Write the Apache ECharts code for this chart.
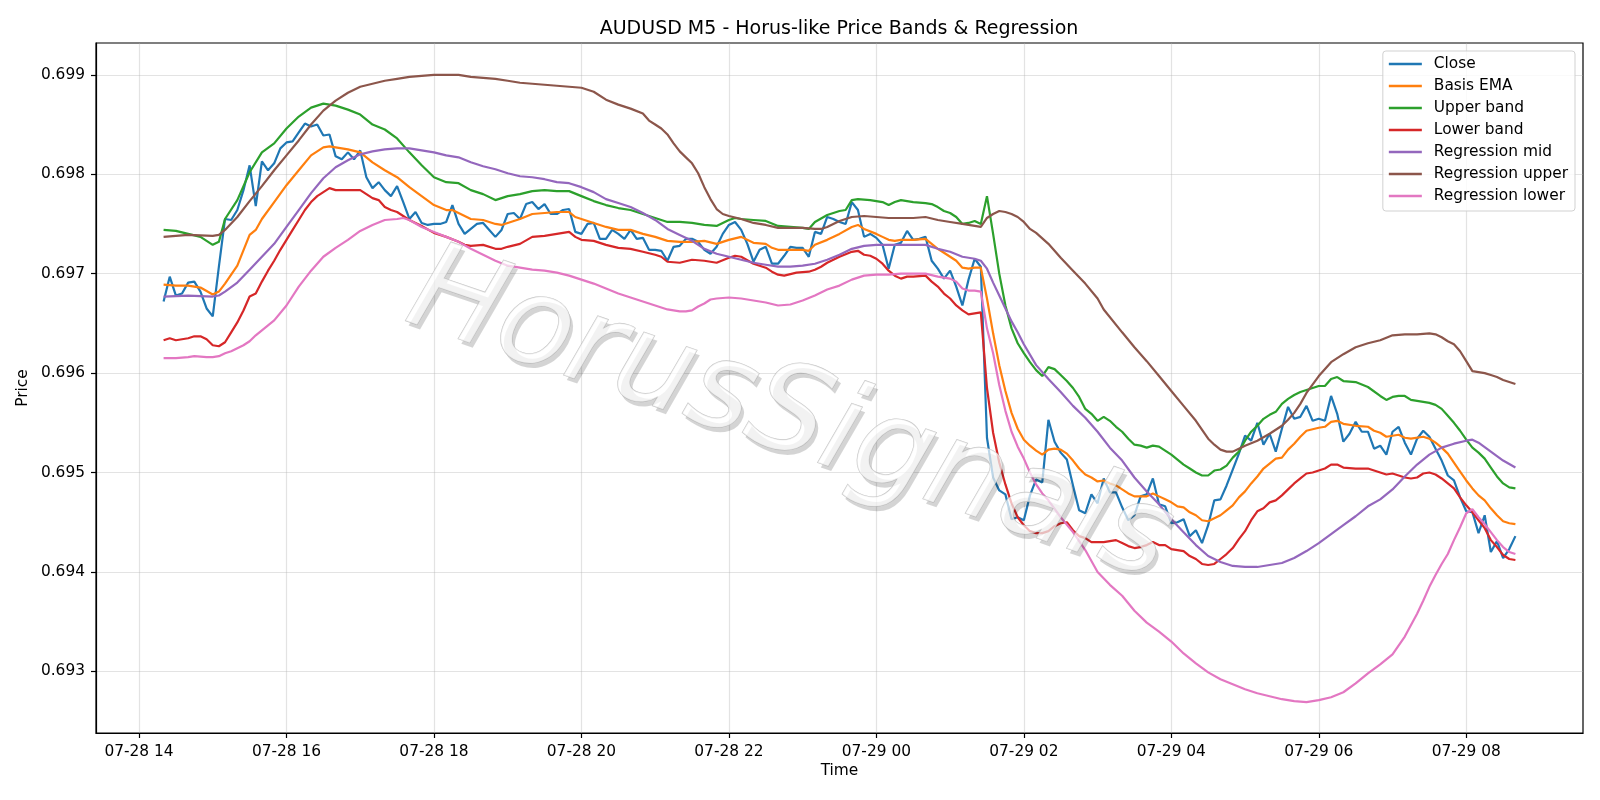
<!DOCTYPE html>
<html>
<head>
<meta charset="utf-8">
<title>AUDUSD M5 - Horus-like Price Bands & Regression</title>
<script src="https://cdn.jsdelivr.net/npm/echarts@6/dist/echarts.min.js"></script>
<style>
  html, body { margin: 0; padding: 0; background: #fff; }
  #chart { width: 1600px; height: 800px; }
</style>
</head>
<body>
<div id="chart"></div>
<script>
// bars are 5 minutes apart, first bar 07-28 14:20 (minutes counted from 07-28 00:00)
const startMinute = 14 * 60 + 20
const barMinutes = 5

const xTickMinutes = [840, 960, 1080, 1200, 1320, 1440, 1560, 1680, 1800, 1920]
const xTickLabels = ['07-28 14', '07-28 16', '07-28 18', '07-28 20', '07-28 22',
  '07-29 00', '07-29 02', '07-29 04', '07-29 06', '07-29 08']
const yTicks = [0.693, 0.694, 0.695, 0.696, 0.697, 0.698, 0.699]

const seriesNames = ['Close', 'Basis EMA', 'Upper band', 'Lower band',
  'Regression mid', 'Regression upper', 'Regression lower']
const seriesColors = ['#1f77b4', '#ff7f0e', '#2ca02c', '#d62728', '#9467bd', '#8c564b', '#e377c2']

// close, one value per bar
const closeValues = [
  0.69672, 0.69697, 0.69678, 0.69680, 0.69691, 0.69692, 0.69682, 0.69665, 0.69657, 0.69707,
  0.69755, 0.69754, 0.69764, 0.69784, 0.69809, 0.69768, 0.69813, 0.69804, 0.69811, 0.69826,
  0.69832, 0.69833, 0.69842, 0.69851, 0.69848, 0.69850, 0.69839, 0.69840, 0.69818, 0.69815,
  0.69822, 0.69815, 0.69824, 0.69797, 0.69786, 0.69792, 0.69784, 0.69778, 0.69788, 0.69772,
  0.69755, 0.69762, 0.69751, 0.69749, 0.69750, 0.69750, 0.69752, 0.69769, 0.69750, 0.69740,
  0.69745, 0.69750, 0.69751, 0.69744, 0.69737, 0.69744, 0.69760, 0.69761, 0.69755, 0.69770,
  0.69772, 0.69765, 0.69770, 0.69760, 0.69760, 0.69764, 0.69765, 0.69742, 0.69740, 0.69750,
  0.69751, 0.69735, 0.69735, 0.69744, 0.69740, 0.69735, 0.69744, 0.69735, 0.69736, 0.69724,
  0.69724, 0.69723, 0.69713, 0.69727, 0.69728, 0.69735, 0.69735, 0.69732, 0.69724, 0.69720,
  0.69727, 0.69740, 0.69749, 0.69752, 0.69744, 0.69730, 0.69712, 0.69724, 0.69727, 0.69710,
  0.69710, 0.69718, 0.69727, 0.69726, 0.69726, 0.69717, 0.69742, 0.69740, 0.69757, 0.69755,
  0.69752, 0.69750, 0.69772, 0.69764, 0.69737, 0.69740, 0.69736, 0.69729, 0.69705, 0.69729,
  0.69731, 0.69743, 0.69734, 0.69735, 0.69737, 0.69713, 0.69705, 0.69695, 0.69703, 0.69687,
  0.69668, 0.69694, 0.69715, 0.69707, 0.69535, 0.69495, 0.69482, 0.69478, 0.69453, 0.69455,
  0.69452, 0.69477, 0.69493, 0.69490, 0.69553, 0.69531, 0.69520, 0.69513, 0.69487, 0.69462,
  0.69459, 0.69478, 0.69469, 0.69494, 0.69480, 0.69480, 0.69465, 0.69452, 0.69457, 0.69476,
  0.69478, 0.69494, 0.69468, 0.69466, 0.69449, 0.69450, 0.69453, 0.69436, 0.69442, 0.69429,
  0.69447, 0.69472, 0.69473, 0.69487, 0.69503, 0.69519, 0.69537, 0.69532, 0.69550, 0.69528,
  0.69539, 0.69521, 0.69544, 0.69566, 0.69554, 0.69556, 0.69567, 0.69552, 0.69554, 0.69552,
  0.69577, 0.69559, 0.69531, 0.69539, 0.69551, 0.69541, 0.69541, 0.69524, 0.69527, 0.69518,
  0.69541, 0.69546, 0.69530, 0.69518, 0.69534, 0.69542, 0.69536, 0.69524, 0.69512, 0.69497,
  0.69492, 0.69475, 0.69461, 0.69460, 0.69439, 0.69457, 0.69420, 0.69431, 0.69414, 0.69423,
  0.69436
]

// smooth lines, read as [bar index, value]
const basisEma = [
  [0, 0.69689], [2, 0.69688], [4, 0.69688], [6, 0.69686], [8, 0.69679], [9, 0.69682], [10, 0.69690],
  [12, 0.69708], [14, 0.69739], [15, 0.69744], [16, 0.69755], [18, 0.69772], [20, 0.69789], [22, 0.69804],
  [24, 0.69819], [26, 0.69827], [27, 0.69828], [28, 0.69827], [30, 0.69825], [32, 0.69822], [34, 0.69812],
  [36, 0.69804], [38, 0.69797], [40, 0.69787], [42, 0.69778], [44, 0.69769], [46, 0.69764], [47, 0.69764],
  [48, 0.69761], [50, 0.69755], [52, 0.69754], [54, 0.69750], [55, 0.69749], [56, 0.69751], [58, 0.69755],
  [60, 0.69760], [62, 0.69761], [64, 0.69762], [66, 0.69762], [67, 0.69757], [68, 0.69755], [70, 0.69751],
  [72, 0.69747], [74, 0.69744], [76, 0.69744], [78, 0.69740], [80, 0.69737], [82, 0.69733], [84, 0.69732],
  [86, 0.69732], [88, 0.69733], [90, 0.69730], [92, 0.69734], [94, 0.69737], [96, 0.69731], [98, 0.69730],
  [99, 0.69726], [100, 0.69724], [102, 0.69724], [104, 0.69724], [105, 0.69723], [106, 0.69729], [108, 0.69734],
  [110, 0.69740], [112, 0.69747], [113, 0.69749], [114, 0.69745], [116, 0.69740], [117, 0.69737], [118, 0.69734],
  [119, 0.69733], [120, 0.69734], [122, 0.69734], [124, 0.69735], [125, 0.69730], [126, 0.69725], [127, 0.69721],
  [128, 0.69717], [129, 0.69713], [130, 0.69706], [131, 0.69705], [132, 0.69706], [133, 0.69706], [134, 0.69675],
  [135, 0.69640], [136, 0.69608], [137, 0.69582], [138, 0.69560], [139, 0.69544], [140, 0.69533], [141, 0.69527],
  [142, 0.69522], [143, 0.69518], [144, 0.69523], [145, 0.69524], [146, 0.69523], [147, 0.69519], [148, 0.69512],
  [149, 0.69504], [150, 0.69498], [151, 0.69495], [152, 0.69491], [153, 0.69492], [154, 0.69489], [155, 0.69487],
  [156, 0.69483], [157, 0.69479], [158, 0.69476], [160, 0.69476], [161, 0.69479], [162, 0.69476], [163, 0.69473],
  [164, 0.69470], [165, 0.69466], [166, 0.69465], [167, 0.69460], [168, 0.69457], [169, 0.69452], [170, 0.69451],
  [171, 0.69454], [172, 0.69457], [173, 0.69462], [174, 0.69467], [175, 0.69475], [176, 0.69481], [177, 0.69489],
  [178, 0.69496], [179, 0.69504], [180, 0.69509], [181, 0.69514], [182, 0.69515], [183, 0.69523], [184, 0.69529],
  [185, 0.69536], [186, 0.69542], [188, 0.69545], [189, 0.69546], [190, 0.69551], [191, 0.69552], [192, 0.69549],
  [194, 0.69547], [196, 0.69546], [197, 0.69542], [198, 0.69540], [199, 0.69536], [200, 0.69537], [201, 0.69538],
  [202, 0.69535], [203, 0.69534], [205, 0.69536], [206, 0.69534], [207, 0.69530], [208, 0.69525], [209, 0.69519],
  [210, 0.69510], [211, 0.69501], [212, 0.69492], [213, 0.69484], [214, 0.69477], [215, 0.69472], [216, 0.69464],
  [217, 0.69457], [218, 0.69451], [219, 0.69449], [220, 0.69448]
]

const upperBand = [
  [0, 0.69744], [2, 0.69743], [4, 0.69740], [6, 0.69737], [8, 0.69729], [9, 0.69732], [10, 0.69755],
  [12, 0.69774], [14, 0.69802], [16, 0.69822], [18, 0.69831], [20, 0.69846], [22, 0.69858], [24, 0.69867],
  [26, 0.69871], [28, 0.69869], [30, 0.69865], [32, 0.69860], [34, 0.69850], [36, 0.69845], [38, 0.69836],
  [40, 0.69822], [42, 0.69809], [44, 0.69797], [46, 0.69792], [48, 0.69791], [50, 0.69784], [52, 0.69780],
  [54, 0.69774], [56, 0.69778], [58, 0.69780], [60, 0.69783], [62, 0.69784], [64, 0.69783], [66, 0.69783],
  [68, 0.69778], [70, 0.69773], [72, 0.69769], [74, 0.69766], [76, 0.69764], [78, 0.69760], [80, 0.69756],
  [82, 0.69752], [84, 0.69752], [86, 0.69751], [88, 0.69749], [90, 0.69748], [92, 0.69754], [93, 0.69756],
  [94, 0.69755], [96, 0.69754], [98, 0.69753], [100, 0.69748], [102, 0.69747], [104, 0.69746], [105, 0.69745],
  [106, 0.69752], [108, 0.69759], [110, 0.69763], [111, 0.69764], [112, 0.69774], [113, 0.69775], [115, 0.69774],
  [117, 0.69772], [118, 0.69769], [119, 0.69772], [120, 0.69774], [122, 0.69772], [124, 0.69771], [125, 0.69770],
  [126, 0.69767], [127, 0.69763], [128, 0.69761], [129, 0.69757], [130, 0.69750], [131, 0.69751], [132, 0.69753],
  [133, 0.69750], [134, 0.69778], [135, 0.69740], [136, 0.69700], [137, 0.69668], [138, 0.69645], [139, 0.69630],
  [140, 0.69620], [141, 0.69611], [142, 0.69603], [143, 0.69597], [144, 0.69606], [145, 0.69604], [146, 0.69598],
  [147, 0.69592], [148, 0.69585], [149, 0.69576], [150, 0.69564], [151, 0.69559], [152, 0.69552], [153, 0.69556],
  [154, 0.69552], [155, 0.69546], [156, 0.69541], [157, 0.69534], [158, 0.69528], [159, 0.69527], [160, 0.69525],
  [161, 0.69527], [162, 0.69526], [163, 0.69522], [164, 0.69518], [165, 0.69513], [166, 0.69508], [167, 0.69504],
  [168, 0.69500], [169, 0.69497], [170, 0.69497], [171, 0.69502], [172, 0.69503], [173, 0.69507], [174, 0.69515],
  [175, 0.69521], [176, 0.69532], [177, 0.69541], [178, 0.69547], [179, 0.69554], [180, 0.69558], [181, 0.69561],
  [182, 0.69569], [183, 0.69574], [184, 0.69578], [185, 0.69581], [186, 0.69583], [188, 0.69587], [189, 0.69587],
  [190, 0.69594], [191, 0.69596], [192, 0.69592], [194, 0.69591], [196, 0.69586], [198, 0.69577], [199, 0.69573],
  [200, 0.69576], [201, 0.69577], [202, 0.69577], [203, 0.69573], [204, 0.69572], [206, 0.69570], [207, 0.69568],
  [208, 0.69564], [209, 0.69557], [210, 0.69550], [211, 0.69542], [212, 0.69533], [213, 0.69525], [214, 0.69520],
  [215, 0.69514], [216, 0.69505], [217, 0.69496], [218, 0.69489], [219, 0.69485], [220, 0.69484]
]

const lowerBand = [
  [0, 0.69633], [1, 0.69635], [2, 0.69633], [4, 0.69635], [5, 0.69637], [6, 0.69637], [7, 0.69634], [8, 0.69628],
  [9, 0.69627], [10, 0.69631], [11, 0.69641], [12, 0.69651], [13, 0.69663], [14, 0.69677], [15, 0.69680],
  [16, 0.69692], [17, 0.69703], [18, 0.69713], [19, 0.69724], [20, 0.69734], [21, 0.69744], [22, 0.69754],
  [23, 0.69764], [24, 0.69772], [25, 0.69778], [26, 0.69782], [27, 0.69786], [28, 0.69784], [30, 0.69784],
  [32, 0.69784], [33, 0.69780], [34, 0.69776], [35, 0.69774], [36, 0.69767], [37, 0.69764], [38, 0.69762],
  [40, 0.69754], [42, 0.69748], [44, 0.69741], [46, 0.69737], [48, 0.69732], [49, 0.69729], [50, 0.69728],
  [52, 0.69729], [54, 0.69725], [55, 0.69725], [56, 0.69727], [58, 0.69730], [60, 0.69737], [62, 0.69738],
  [64, 0.69740], [66, 0.69742], [67, 0.69737], [68, 0.69734], [70, 0.69733], [72, 0.69729], [74, 0.69726],
  [76, 0.69725], [78, 0.69722], [80, 0.69719], [81, 0.69717], [82, 0.69712], [84, 0.69711], [86, 0.69714],
  [88, 0.69713], [90, 0.69711], [92, 0.69716], [93, 0.69718], [94, 0.69717], [96, 0.69710], [98, 0.69706],
  [99, 0.69702], [100, 0.69699], [101, 0.69698], [103, 0.69701], [105, 0.69702], [106, 0.69704], [107, 0.69707],
  [108, 0.69711], [110, 0.69717], [112, 0.69722], [113, 0.69723], [114, 0.69719], [115, 0.69718], [116, 0.69715],
  [117, 0.69710], [118, 0.69703], [119, 0.69698], [120, 0.69695], [121, 0.69697], [122, 0.69697], [124, 0.69698],
  [125, 0.69692], [126, 0.69687], [127, 0.69680], [128, 0.69675], [129, 0.69668], [130, 0.69663], [131, 0.69659],
  [132, 0.69660], [133, 0.69661], [134, 0.69585], [135, 0.69540], [136, 0.69510], [137, 0.69488], [138, 0.69469],
  [139, 0.69455], [140, 0.69447], [141, 0.69441], [142, 0.69439], [143, 0.69439], [144, 0.69441], [145, 0.69446],
  [146, 0.69449], [147, 0.69450], [148, 0.69442], [149, 0.69436], [150, 0.69434], [151, 0.69430], [152, 0.69430],
  [153, 0.69430], [154, 0.69431], [155, 0.69432], [156, 0.69429], [157, 0.69426], [158, 0.69424], [159, 0.69425],
  [160, 0.69427], [161, 0.69430], [162, 0.69427], [163, 0.69427], [164, 0.69423], [165, 0.69422], [166, 0.69421],
  [167, 0.69416], [168, 0.69413], [169, 0.69408], [170, 0.69407], [171, 0.69408], [172, 0.69413], [173, 0.69418],
  [174, 0.69424], [175, 0.69433], [176, 0.69441], [177, 0.69452], [178, 0.69461], [179, 0.69464], [180, 0.69470],
  [181, 0.69472], [182, 0.69477], [183, 0.69483], [184, 0.69489], [185, 0.69494], [186, 0.69499], [187, 0.69500],
  [188, 0.69502], [189, 0.69504], [190, 0.69508], [191, 0.69508], [192, 0.69505], [194, 0.69504], [196, 0.69504],
  [197, 0.69502], [198, 0.69500], [199, 0.69498], [200, 0.69499], [201, 0.69497], [202, 0.69495], [203, 0.69494],
  [204, 0.69495], [205, 0.69499], [206, 0.69500], [207, 0.69498], [208, 0.69494], [209, 0.69489], [210, 0.69484],
  [211, 0.69475], [212, 0.69467], [213, 0.69460], [214, 0.69452], [215, 0.69444], [216, 0.69432], [217, 0.69425],
  [218, 0.69417], [219, 0.69413], [220, 0.69412]
]

const regressionMid = [
  [0, 0.69677], [4, 0.69678], [8, 0.69677], [9, 0.69678], [10, 0.69682], [12, 0.69691], [14, 0.69704],
  [16, 0.69717], [18, 0.69730], [20, 0.69747], [22, 0.69764], [24, 0.69781], [26, 0.69796], [28, 0.69807],
  [30, 0.69814], [32, 0.69820], [34, 0.69823], [36, 0.69825], [38, 0.69826], [40, 0.69826], [42, 0.69824],
  [44, 0.69822], [46, 0.69819], [48, 0.69817], [50, 0.69812], [52, 0.69808], [54, 0.69805], [56, 0.69801],
  [58, 0.69798], [60, 0.69797], [62, 0.69795], [64, 0.69792], [66, 0.69791], [68, 0.69787], [70, 0.69782],
  [72, 0.69775], [74, 0.69771], [76, 0.69767], [78, 0.69761], [80, 0.69754], [82, 0.69745], [84, 0.69739],
  [86, 0.69733], [88, 0.69725], [90, 0.69720], [92, 0.69717], [94, 0.69714], [96, 0.69711], [98, 0.69709],
  [100, 0.69707], [102, 0.69707], [104, 0.69708], [106, 0.69710], [108, 0.69714], [110, 0.69719], [112, 0.69725],
  [114, 0.69728], [116, 0.69729], [118, 0.69729], [120, 0.69729], [124, 0.69729], [126, 0.69725], [128, 0.69722],
  [130, 0.69717], [132, 0.69715], [133, 0.69713], [134, 0.69705], [135, 0.69691], [136, 0.69678], [137, 0.69665],
  [138, 0.69652], [139, 0.69641], [140, 0.69629], [142, 0.69608], [144, 0.69594], [146, 0.69581], [148, 0.69567],
  [150, 0.69555], [152, 0.69541], [154, 0.69525], [156, 0.69512], [158, 0.69495], [160, 0.69481], [162, 0.69468],
  [164, 0.69453], [166, 0.69440], [168, 0.69427], [170, 0.69416], [172, 0.69410], [174, 0.69406], [176, 0.69405],
  [178, 0.69405], [180, 0.69407], [182, 0.69409], [184, 0.69414], [186, 0.69421], [188, 0.69429], [190, 0.69438],
  [192, 0.69447], [194, 0.69456], [196, 0.69466], [198, 0.69473], [200, 0.69483], [202, 0.69496], [204, 0.69508],
  [206, 0.69518], [208, 0.69525], [210, 0.69529], [212, 0.69532], [213, 0.69533], [214, 0.69530], [216, 0.69521],
  [218, 0.69512], [220, 0.69505]
]

const regressionUpper = [
  [0, 0.69737], [4, 0.69739], [8, 0.69738], [9, 0.69739], [10, 0.69744], [12, 0.69757], [14, 0.69773],
  [16, 0.69788], [18, 0.69804], [20, 0.69819], [22, 0.69834], [24, 0.69850], [26, 0.69864], [28, 0.69874],
  [30, 0.69882], [32, 0.69888], [34, 0.69891], [36, 0.69894], [38, 0.69896], [40, 0.69898], [42, 0.69899],
  [44, 0.69900], [46, 0.69900], [48, 0.69900], [50, 0.69898], [52, 0.69897], [54, 0.69896], [56, 0.69894],
  [58, 0.69892], [60, 0.69891], [62, 0.69890], [64, 0.69889], [66, 0.69888], [68, 0.69887], [70, 0.69883],
  [72, 0.69875], [74, 0.69870], [76, 0.69866], [78, 0.69861], [79, 0.69854], [80, 0.69850], [81, 0.69846],
  [82, 0.69840], [83, 0.69831], [84, 0.69823], [85, 0.69817], [86, 0.69811], [87, 0.69801], [88, 0.69787],
  [89, 0.69775], [90, 0.69765], [91, 0.69760], [92, 0.69758], [94, 0.69755], [96, 0.69751], [98, 0.69749],
  [100, 0.69746], [102, 0.69746], [104, 0.69746], [106, 0.69745], [107, 0.69745], [108, 0.69747], [109, 0.69750],
  [110, 0.69753], [111, 0.69755], [112, 0.69757], [114, 0.69758], [116, 0.69757], [118, 0.69756], [120, 0.69756],
  [122, 0.69756], [124, 0.69757], [126, 0.69754], [128, 0.69752], [130, 0.69750], [132, 0.69748], [133, 0.69747],
  [134, 0.69756], [135, 0.69760], [136, 0.69763], [137, 0.69762], [138, 0.69760], [139, 0.69757], [140, 0.69752],
  [141, 0.69745], [142, 0.69741], [144, 0.69730], [146, 0.69716], [148, 0.69703], [150, 0.69690], [152, 0.69675],
  [153, 0.69664], [156, 0.69641], [158, 0.69626], [160, 0.69612], [162, 0.69597], [164, 0.69582], [166, 0.69567],
  [168, 0.69552], [170, 0.69534], [171, 0.69528], [172, 0.69523], [173, 0.69521], [174, 0.69521], [175, 0.69524],
  [176, 0.69527], [178, 0.69532], [180, 0.69539], [182, 0.69547], [183, 0.69553], [184, 0.69560], [185, 0.69569],
  [186, 0.69580], [188, 0.69597], [190, 0.69611], [192, 0.69619], [194, 0.69626], [196, 0.69630], [198, 0.69633],
  [200, 0.69638], [202, 0.69639], [204, 0.69639], [206, 0.69640], [207, 0.69639], [208, 0.69636], [209, 0.69632],
  [210, 0.69629], [211, 0.69622], [212, 0.69612], [213, 0.69602], [214, 0.69601], [215, 0.69600], [216, 0.69598],
  [217, 0.69596], [218, 0.69593], [219, 0.69591], [220, 0.69589]
]

const regressionLower = [
  [0, 0.69615], [2, 0.69615], [4, 0.69616], [5, 0.69617], [7, 0.69616], [8, 0.69616], [9, 0.69617], [10, 0.69620],
  [11, 0.69622], [12, 0.69625], [13, 0.69628], [14, 0.69632], [15, 0.69638], [16, 0.69643], [17, 0.69648],
  [18, 0.69653], [20, 0.69668], [22, 0.69687], [24, 0.69703], [26, 0.69717], [28, 0.69726], [30, 0.69734],
  [32, 0.69743], [34, 0.69749], [36, 0.69754], [38, 0.69755], [39, 0.69756], [40, 0.69754], [42, 0.69747],
  [44, 0.69742], [46, 0.69737], [48, 0.69732], [50, 0.69725], [52, 0.69719], [54, 0.69713], [56, 0.69708],
  [58, 0.69706], [60, 0.69704], [62, 0.69703], [64, 0.69701], [66, 0.69698], [68, 0.69694], [70, 0.69690],
  [72, 0.69685], [74, 0.69680], [76, 0.69676], [78, 0.69672], [80, 0.69668], [82, 0.69664], [84, 0.69662],
  [85, 0.69662], [86, 0.69663], [87, 0.69667], [88, 0.69670], [89, 0.69674], [90, 0.69675], [92, 0.69676],
  [94, 0.69675], [96, 0.69673], [98, 0.69671], [100, 0.69668], [102, 0.69669], [104, 0.69673], [106, 0.69678],
  [108, 0.69684], [110, 0.69688], [112, 0.69694], [114, 0.69698], [116, 0.69699], [118, 0.69699], [120, 0.69700],
  [122, 0.69700], [124, 0.69700], [126, 0.69697], [128, 0.69695], [129, 0.69692], [130, 0.69685], [131, 0.69683],
  [132, 0.69683], [133, 0.69682], [134, 0.69645], [135, 0.69620], [136, 0.69588], [137, 0.69562], [138, 0.69541],
  [139, 0.69526], [140, 0.69514], [141, 0.69500], [142, 0.69488], [143, 0.69479], [144, 0.69472], [146, 0.69455],
  [148, 0.69440], [150, 0.69422], [152, 0.69400], [154, 0.69387], [156, 0.69376], [158, 0.69361], [160, 0.69349],
  [162, 0.69340], [164, 0.69330], [166, 0.69318], [168, 0.69308], [170, 0.69299], [172, 0.69292], [174, 0.69287],
  [176, 0.69282], [178, 0.69278], [180, 0.69275], [182, 0.69272], [184, 0.69270], [186, 0.69269], [188, 0.69271],
  [190, 0.69274], [192, 0.69279], [194, 0.69288], [196, 0.69298], [198, 0.69307], [200, 0.69317], [202, 0.69335],
  [204, 0.69358], [205, 0.69371], [206, 0.69385], [207, 0.69397], [208, 0.69408], [209, 0.69418], [210, 0.69432],
  [211, 0.69445], [212, 0.69459], [213, 0.69463], [214, 0.69455], [215, 0.69448], [216, 0.69440], [217, 0.69432],
  [218, 0.69425], [219, 0.69420], [220, 0.69418]
]

const font = 'DejaVu Sans'

function barToMinute (i) {
  return startMinute + i * barMinutes
}

const closePoints = closeValues.map((v, i) => [barToMinute(i), v])
function toPoints (pairs) {
  return pairs.map(p => [barToMinute(p[0]), p[1]])
}

const seriesData = [
  closePoints,
  toPoints(basisEma),
  toPoints(upperBand),
  toPoints(lowerBand),
  toPoints(regressionMid),
  toPoints(regressionUpper),
  toPoints(regressionLower)
]

const lastMinute = barToMinute(closeValues.length - 1)
const xPad = (lastMinute - startMinute) * 0.05

// watermark: a grey shadow copy under a half-clear white copy
const markAngle = -19 * Math.PI / 180
const markFont = 'italic 122px "DejaVu Sans"'

var myChart = echarts.init(document.getElementById('chart'))
myChart.setOption({
  animation: false,
  backgroundColor: '#ffffff',
  title: {
    text: 'AUDUSD M5 - Horus-like Price Bands & Regression',
    left: 834,
    top: 15,
    textAlign: 'center',
    textStyle: { fontFamily: font, fontSize: 19, fontWeight: 'normal', color: '#000' }
  },
  legend: {
    orient: 'vertical',
    right: 25,
    top: 51,
    padding: [4, 7, 6, 6],
    itemWidth: 33,
    itemHeight: 2.3,
    itemGap: 4,
    icon: 'rect',
    backgroundColor: 'rgba(255,255,255,0.8)',
    borderColor: 'rgba(204,204,204,0.9)',
    borderWidth: 1,
    borderRadius: 3,
    textStyle: { fontFamily: font, fontSize: 15.4, color: '#000', lineHeight: 18, padding: [0, 0, 0, 7] },
    data: seriesNames
  },
  grid: {
    left: 96,
    right: 17,
    top: 43,
    bottom: 67,
    show: true,
    borderColor: '#000',
    borderWidth: 1.2
  },
  xAxis: {
    type: 'value',
    min: startMinute - xPad,
    max: lastMinute + xPad,
    name: 'Time',
    nameLocation: 'middle',
    nameGap: 28,
    nameTextStyle: { fontFamily: font, fontSize: 15.4, color: '#000' },
    axisLine: { show: true, onZero: false, lineStyle: { color: '#000', width: 1.2 } },
    axisTick: { show: true, length: 5, customValues: xTickMinutes, lineStyle: { color: '#000', width: 1.2 } },
    axisLabel: {
      customValues: xTickMinutes,
      margin: 11,
      fontFamily: font,
      fontSize: 15.4,
      color: '#000',
      formatter: v => xTickLabels[xTickMinutes.indexOf(v)]
    },
    splitLine: { show: true, lineStyle: { color: 'rgba(176,176,176,0.35)', width: 1.2 } }
  },
  yAxis: {
    type: 'value',
    min: 0.69238,
    max: 0.69932,
    name: 'Price',
    nameLocation: 'middle',
    nameGap: 62,
    nameTextStyle: { fontFamily: font, fontSize: 15.4, color: '#000' },
    axisLine: { show: true, lineStyle: { color: '#000', width: 1.2 } },
    axisTick: { show: true, length: 5, customValues: yTicks, lineStyle: { color: '#000', width: 1.2 } },
    axisLabel: {
      customValues: yTicks,
      margin: 11,
      fontFamily: font,
      fontSize: 15.4,
      color: '#000',
      formatter: v => v.toFixed(3)
    },
    splitLine: { show: true, lineStyle: { color: 'rgba(176,176,176,0.35)', width: 1.2 } }
  },
  graphic: [
    {
      type: 'text',
      x: 792,
      y: 424,
      rotation: markAngle,
      z: 100,
      silent: true,
      style: {
        text: 'HorusSignals',
        font: markFont,
        fill: 'rgba(0,0,0,0.17)',
        align: 'center',
        verticalAlign: 'middle',
        textAlign: 'center',
        textVerticalAlign: 'middle'
      }
    },
    {
      type: 'text',
      x: 789,
      y: 419,
      rotation: markAngle,
      z: 101,
      silent: true,
      style: {
        text: 'HorusSignals',
        font: markFont,
        fill: 'rgba(255,255,255,0.7)',
        stroke: 'rgba(175,175,175,0.7)',
        lineWidth: 1.2,
        align: 'center',
        verticalAlign: 'middle',
        textAlign: 'center',
        textVerticalAlign: 'middle'
      }
    }
  ],
  series: seriesNames.map((name, k) => ({
    name: name,
    type: 'line',
    data: seriesData[k],
    showSymbol: false,
    symbol: 'none',
    color: seriesColors[k],
    itemStyle: { color: seriesColors[k] },
    lineStyle: { color: seriesColors[k], width: 2.2 },
    z: 2 + k
  }))
})
</script>
</body>
</html>
